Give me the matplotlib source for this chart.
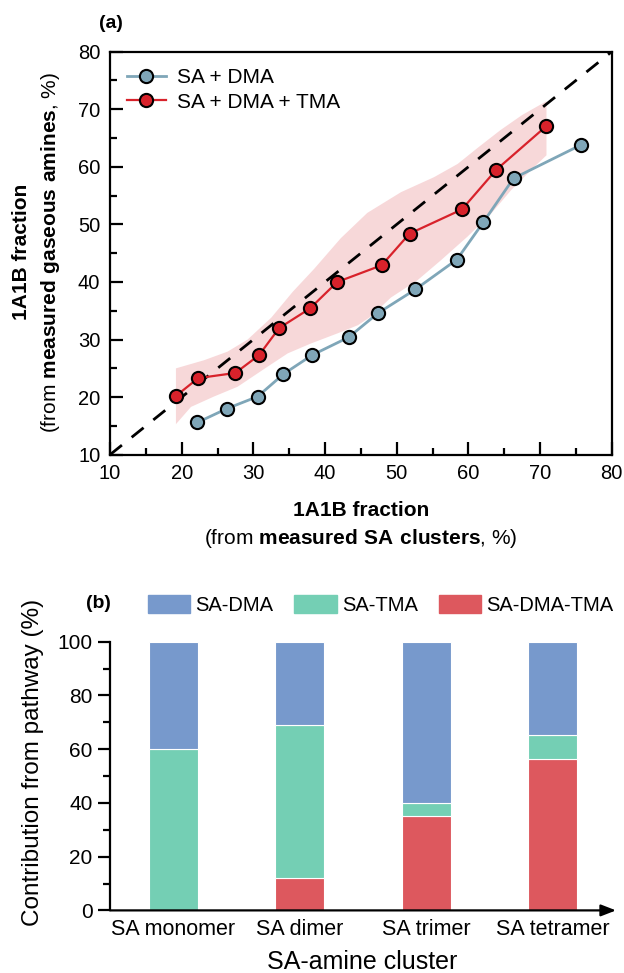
import matplotlib
matplotlib.use('Agg')
import matplotlib.pyplot as plt
from matplotlib.patches import Patch
from matplotlib.ticker import MultipleLocator

plt.rcParams['font.family'] = ['Liberation Sans', 'DejaVu Sans']
plt.rcParams['mathtext.fontset'] = 'custom'
plt.rcParams['mathtext.rm'] = 'Liberation Sans'
plt.rcParams['mathtext.bf'] = 'Liberation Sans:bold'

# panel (a) data
dma_x = [22.2, 26.3, 30.6, 34.2, 38.2, 43.3, 47.4, 52.6, 58.4, 62.1, 66.3, 75.7]
dma_y = [15.6, 18.0, 20.1, 24.0, 27.3, 30.4, 34.6, 38.7, 43.9, 50.4, 58.0, 63.8]
tma_x = [19.2, 22.3, 27.5, 30.8, 33.6, 37.9, 41.7, 47.9, 51.8, 59.1, 63.9, 70.9]
tma_y = [20.2, 23.3, 24.2, 27.3, 32.0, 35.4, 40.0, 42.9, 48.4, 52.6, 59.5, 67.1]
# shaded range of SA + DMA + TMA (upper / lower edge)
hi_x = [19.2, 23.1, 26.4, 29.2, 32.5, 35.5, 38.5, 42.2, 45.9, 50.6, 55.2, 58.5, 61.3, 64.5, 67.5, 70.9]
hi_y = [25.0, 26.4, 27.9, 30.0, 33.8, 38.3, 42.3, 47.6, 52.0, 55.6, 58.2, 60.5, 63.3, 66.4, 69.0, 71.4]
lo_x = [19.2, 21.3, 24.5, 27.8, 32.0, 34.8, 38.0, 41.8, 44.6, 46.4, 49.2, 52.9, 56.2, 59.9, 63.2, 66.0, 69.2, 70.9]
lo_y = [15.3, 18.3, 20.1, 21.8, 25.3, 27.6, 29.3, 31.1, 32.5, 34.0, 37.3, 40.3, 43.8, 47.9, 51.9, 56.0, 60.0, 62.0]

# panel (b) data
clusters = ['SA monomer', 'SA dimer', 'SA trimer', 'SA tetramer']
sa_dma_tma = [0.0, 12.0, 35.3, 56.4]
sa_tma = [60.1, 57.0, 4.8, 8.7]
sa_dma = [39.9, 31.0, 59.9, 34.9]

fig = plt.figure(figsize=(6.24, 9.73), dpi=100)

# ---------- (a) ----------
ax1 = fig.add_axes([110 / 624, 1 - 454.7 / 973, 501.7 / 624, 403 / 973])
ax1.fill(hi_x + lo_x[::-1], hi_y + lo_y[::-1], color='#f2b8bb', alpha=0.55, lw=0)
ax1.plot([10, 80], [10, 80], color='k', ls=(0, (5.5, 4.5)), lw=2.0, zorder=2)
ax1.plot(dma_x, dma_y, '-o', color='#7fa6b8', mfc='#7fa6b8', mec='k',
         ms=9.5, mew=1.5, lw=2, label='SA + DMA', zorder=3)
ax1.plot(tma_x, tma_y, '-o', color='#d8222b', mfc='#d8222b', mec='k',
         ms=9.5, mew=1.5, lw=1.6, label='SA + DMA + TMA', zorder=4)
ax1.set_xlim(10, 80)
ax1.set_ylim(10, 80)
ax1.xaxis.set_major_locator(MultipleLocator(10))
ax1.yaxis.set_major_locator(MultipleLocator(10))
ax1.xaxis.set_minor_locator(MultipleLocator(5))
ax1.yaxis.set_minor_locator(MultipleLocator(5))
ax1.tick_params(which='both', direction='in', top=False, right=False, width=1.6, labelsize=14.5)
ax1.tick_params(which='major', length=9.5, pad=7)
ax1.tick_params(which='minor', length=5)
for s in ax1.spines.values():
    s.set_linewidth(1.6)
ax1.legend(loc='upper left', fontsize=15, frameon=False, handlelength=1.9,
           handletextpad=0.5, borderaxespad=0.4, labelspacing=0.25)

fig.text(22 / 624, 1 - 252 / 973, '1A1B fraction', rotation=90, fontsize=15,
         fontweight='bold', ha='center', va='center')
fig.text(50 / 624, 1 - 252 / 973, r'(from $\mathbf{measured\ gaseous\ amines}$, %)',
         rotation=90, fontsize=15, ha='center', va='center')
fig.text(361 / 624, 1 - 510 / 973, '1A1B fraction', fontsize=15,
         fontweight='bold', ha='center', va='center')
fig.text(361 / 624, 1 - 538 / 973, r'(from $\mathbf{measured\ SA\ clusters}$, %)',
         fontsize=15, ha='center', va='center')
fig.text(111 / 624, 1 - 24 / 973, '(a)', fontsize=14, fontweight='bold', ha='center', va='center')

# ---------- (b) ----------
ax2 = fig.add_axes([110 / 624, 1 - 910.4 / 973, 506 / 624, 268.7 / 973])
pos = range(len(clusters))
w = 0.39
ax2.bar(pos, sa_dma_tma, w, color='#dd585e', edgecolor='white', lw=0.8)
ax2.bar(pos, sa_tma, w, bottom=sa_dma_tma, color='#74cfb4', edgecolor='white', lw=0.8)
bot3 = [a + b for a, b in zip(sa_dma_tma, sa_tma)]
ax2.bar(pos, sa_dma, w, bottom=bot3, color='#7799cc', edgecolor='white', lw=0.8)
ax2.set_xlim(-0.5, 3.5)
ax2.set_ylim(0, 100)
ax2.set_xticks(list(pos))
ax2.set_xticklabels(clusters)
ax2.yaxis.set_major_locator(MultipleLocator(20))
ax2.yaxis.set_minor_locator(MultipleLocator(10))
ax2.tick_params(axis='y', which='both', direction='out', width=1.6, labelsize=15)
ax2.tick_params(axis='y', which='major', length=9)
ax2.tick_params(axis='y', which='minor', length=5)
ax2.tick_params(axis='x', length=0, labelsize=15.5, pad=6)
ax2.spines['top'].set_visible(False)
ax2.spines['right'].set_visible(False)
ax2.spines['bottom'].set_visible(False)
ax2.spines['left'].set_linewidth(1.6)
ax2.annotate('', xy=(1.0, 0), xytext=(0, 0), xycoords='axes fraction',
             arrowprops=dict(arrowstyle='-|>,head_length=0.9,head_width=0.35',
                             color='k', lw=1.6, shrinkA=0, shrinkB=0))
fig.text(33 / 624, 1 - 762 / 973, 'Contribution from pathway (%)', rotation=90,
         fontsize=17.5, ha='center', va='center')
fig.text(362 / 624, 1 - 962 / 973, 'SA-amine cluster', fontsize=18, ha='center', va='center')

handles = [Patch(color='#7799cc'), Patch(color='#74cfb4'), Patch(color='#dd585e')]
fig.legend(handles, ['SA-DMA', 'SA-TMA', 'SA-DMA-TMA'], ncol=3, frameon=False,
           fontsize=14.5, loc='center left', bbox_to_anchor=(148 / 624, 1 - 605 / 973),
           borderpad=0, borderaxespad=0, handlelength=2.1, handleheight=1.0,
           handletextpad=0.25, columnspacing=1.05)
fig.text(98 / 624, 1 - 603 / 973, '(b)', fontsize=14, fontweight='bold', ha='center', va='center')

fig.savefig('out.png', dpi=100)
